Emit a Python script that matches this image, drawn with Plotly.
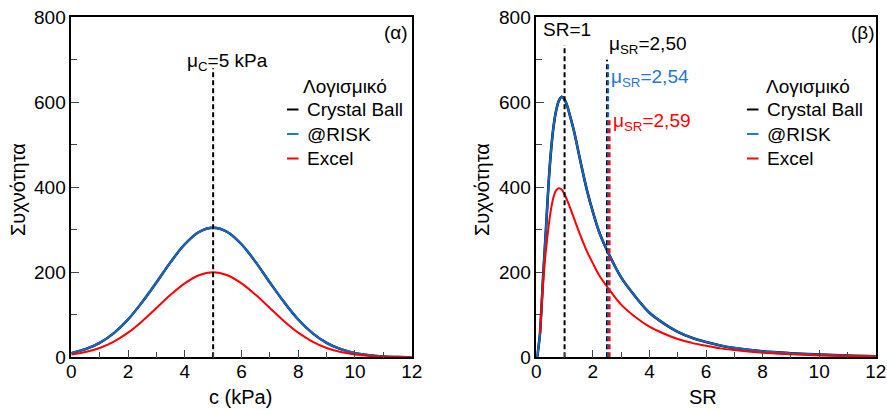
import plotly.graph_objects as go

# ---------------- data ----------------
# (α) cohesion c (kPa)
c_x = [0, 0.5, 1, 1.5, 2, 2.5, 3, 3.5, 4, 4.5, 5, 5.5, 6, 6.5, 7, 7.5, 8, 8.5, 9, 9.5, 10, 10.5, 11, 11.5, 12]
c_crystal = [10, 19, 34, 57, 89, 130, 176, 224, 266, 295, 305, 295, 266, 224, 176, 130, 89, 57, 34, 19, 10, 5, 2.2, 0.9, 0.4]
c_risk = [10, 19, 34, 57, 89, 130, 176, 224, 266, 295, 305, 295, 266, 224, 176, 130, 89, 57, 34, 19, 10, 5, 2.2, 0.9, 0.4]
c_excel = [6.5, 12.5, 22, 37, 58, 85, 116, 147, 174, 193, 200, 193, 174, 147, 116, 85, 58, 37, 22, 12.5, 6.5, 3.2, 1.4, 0.6, 0.2]
c_mean = 5
c_mean_top = 680

# (β) SR
sr_x = [0.03, 0.08, 0.13, 0.17, 0.21, 0.25, 0.3, 0.34, 0.4, 0.45, 0.5, 0.6, 0.7, 0.8, 0.9, 1.0, 1.1, 1.2,
        1.33, 1.57, 1.81, 2.0, 2.25, 2.55, 3.0, 3.5, 4.0, 4.5, 5.0, 5.5, 6.0, 6.5, 7.0, 8.0, 9.0, 10.0, 11.0, 12.0]
sr_crystal = [0, 25, 56, 100, 150, 200, 255, 300, 370, 425, 470, 538, 580, 604, 613, 606, 590, 566,
              533, 458, 388, 342, 290, 245, 188, 143, 105, 80, 60, 46, 36, 28, 22, 14, 9.5, 6.5, 4, 2.5]
sr_risk = [0, 25, 56, 100, 150, 200, 255, 300, 370, 425, 470, 538, 580, 604, 613, 606, 590, 566,
           533, 458, 388, 342, 290, 245, 188, 143, 105, 80, 60, 46, 36, 28, 22, 14, 9.5, 6.5, 4, 2.5]
sr_x_excel = [0.13, 0.17, 0.21, 0.27, 0.33, 0.42, 0.5, 0.6, 0.7, 0.8, 0.9, 1.0, 1.15, 1.36, 1.6, 1.8, 2.0,
              2.25, 2.55, 3.0, 3.5, 4.0, 4.5, 5.0, 5.5, 6.0, 6.5, 7.0, 8.0, 9.0, 10.0, 11.0, 12.0]
sr_excel = [56, 100, 145, 200, 245, 300, 340, 375, 393, 398, 395, 383, 360, 322, 280, 248, 221,
            190, 162, 124, 95, 72, 56, 43, 34, 27, 21, 17, 10.5, 7, 4.5, 3, 2]
sr_one = 1
sr_one_top = 735
sr_means = [2.50, 2.54, 2.59]
sr_mean_tops = [700, 690, 560]
sr_mean_labels = ["μ<sub>SR</sub>=2,50", "μ<sub>SR</sub>=2,54", "μ<sub>SR</sub>=2,59"]

software = ["Crystal Ball", "@RISK", "Excel"]
x_ticks = [0, 2, 4, 6, 8, 10, 12]
y_ticks = [0, 200, 400, 600, 800]

# ---------------- styles ----------------
W, H = 887, 410
FONT = "Liberation Sans, Arial, sans-serif"
BLACK = "#000000"
BLUE = "#1764bf"
BLUE_TXT = "#1f77d6"
RED = "#ff0000"
colors = [BLACK, BLUE, RED]


def px(x):
    return x / W


def py(y):
    return 1 - y / H


fig = go.Figure()

# left panel curves
fig.add_trace(go.Scatter(x=c_x, y=c_crystal, mode="lines", line=dict(color=BLACK, width=2.4, shape="spline"),
                         xaxis="x", yaxis="y", showlegend=False))
fig.add_trace(go.Scatter(x=c_x, y=c_risk, mode="lines", line=dict(color=BLUE, width=2.4, shape="spline"),
                         xaxis="x", yaxis="y", showlegend=False))
fig.add_trace(go.Scatter(x=c_x, y=c_excel, mode="lines", line=dict(color=RED, width=2, shape="spline"),
                         xaxis="x", yaxis="y", showlegend=False))
fig.add_trace(go.Scatter(x=[c_mean, c_mean], y=[0, c_mean_top], mode="lines",
                         line=dict(color=BLACK, width=2, dash="5px,3px"), xaxis="x", yaxis="y", showlegend=False))

# right panel curves
fig.add_trace(go.Scatter(x=sr_x, y=sr_crystal, mode="lines", line=dict(color=BLACK, width=2.6, shape="spline"),
                         xaxis="x2", yaxis="y2", showlegend=False))
fig.add_trace(go.Scatter(x=sr_x, y=sr_risk, mode="lines", line=dict(color=BLUE, width=2.2, shape="spline"),
                         xaxis="x2", yaxis="y2", showlegend=False))
fig.add_trace(go.Scatter(x=sr_x_excel, y=sr_excel, mode="lines", line=dict(color=RED, width=2, shape="spline"),
                         xaxis="x2", yaxis="y2", showlegend=False))
fig.add_trace(go.Scatter(x=[sr_one, sr_one], y=[0, sr_one_top], mode="lines",
                         line=dict(color=BLACK, width=2, dash="5px,3px"), xaxis="x2", yaxis="y2", showlegend=False))
for m, top, col in zip(sr_means, sr_mean_tops, colors):
    fig.add_trace(go.Scatter(x=[m, m], y=[0, top], mode="lines",
                             line=dict(color=col, width=2, dash="5px,3px"), xaxis="x2", yaxis="y2", showlegend=False))

axis_common = dict(
    range=[0, 12], tickvals=x_ticks, ticks="inside", ticklen=8, tickwidth=1.3, tickcolor="#444",
    showline=True, linecolor=BLACK, linewidth=1.5, mirror=True, showgrid=False, zeroline=False,
    automargin=False, ticklabelstandoff=-4,
    tickfont=dict(family=FONT, size=19, color=BLACK),
    minor=dict(dtick=1, tick0=0, ticks="inside", ticklen=6, tickwidth=1.3, tickcolor="#444", showgrid=False),
)
yaxis_common = dict(
    range=[0, 800], tickvals=y_ticks, ticks="inside", ticklen=8, tickwidth=1.3, tickcolor="#444",
    showline=True, linecolor=BLACK, linewidth=1.5, mirror=True, showgrid=False, zeroline=False,
    automargin=False,
    tickfont=dict(family=FONT, size=19, color=BLACK),
    minor=dict(dtick=100, tick0=0, ticks="inside", ticklen=6, tickwidth=1.3, tickcolor="#444", showgrid=False),
)

ydom = [py(357.3), py(17.3)]
fig.update_layout(
    width=W, height=H,
    margin=dict(l=0, r=0, t=0, b=0, autoexpand=False),
    paper_bgcolor="white", plot_bgcolor="white",
    font=dict(family=FONT, size=19, color=BLACK),
    showlegend=False,
    xaxis=dict(domain=[px(71.3), px(411.7)], anchor="y", **axis_common),
    yaxis=dict(domain=ydom, anchor="x", **yaxis_common),
    xaxis2=dict(domain=[px(536.3), px(875.7)], anchor="y2", **axis_common),
    yaxis2=dict(domain=ydom, anchor="x2", **yaxis_common),
)

ann = []


def add_text(text, x, y, size=19, color=BLACK, xanchor="center", angle=0):
    ann.append(dict(text=text, x=px(x), y=py(y), xref="paper", yref="paper", showarrow=False,
                    xanchor=xanchor, yanchor="middle", textangle=angle,
                    font=dict(family=FONT, size=size, color=color)))


# axis titles
add_text("c (kPa)", 240, 397, size=20)
add_text("SR", 703, 397, size=20)
add_text("Συχνότητα", 18, 190, size=20, angle=-90)
add_text("Συχνότητα", 482, 190, size=20, angle=-90)

# panel labels
add_text("(α)", 396, 33)
add_text("(β)", 863, 33)

# reference line labels
add_text("μ<sub>C</sub>=5 kPa", 185, 62, xanchor="left")
add_text("SR=1", 541, 30, xanchor="left")
label_pos = [(607, 45), (609, 78), (611, 122)]
label_cols = [BLACK, BLUE_TXT, RED]
for lab, (lx, ly), col in zip(sr_mean_labels, label_pos, label_cols):
    add_text(lab, lx, ly, color=col, xanchor="left")

# manual legends
shapes = []
for (title_cx, sample_x0, text_x) in [(345, 287, 305), (808, 747, 765)]:
    add_text("Λογισμικό", title_cx, 87)
    for name, col, yy in zip(software, colors, [109.5, 134, 158.5]):
        shapes.append(dict(type="line", xref="paper", yref="paper", x0=px(sample_x0), x1=px(sample_x0 + 11.5),
                           y0=py(yy), y1=py(yy), line=dict(color=col if col != BLUE else BLUE_TXT, width=2)))
        add_text(name, text_x, yy, xanchor="left")

fig.update_layout(annotations=ann, shapes=shapes)
fig.write_html(
    "out.html",
    config={"displayModeBar": False},
    post_script="document.body.style.margin='0';document.body.style.overflow='hidden';",
)
